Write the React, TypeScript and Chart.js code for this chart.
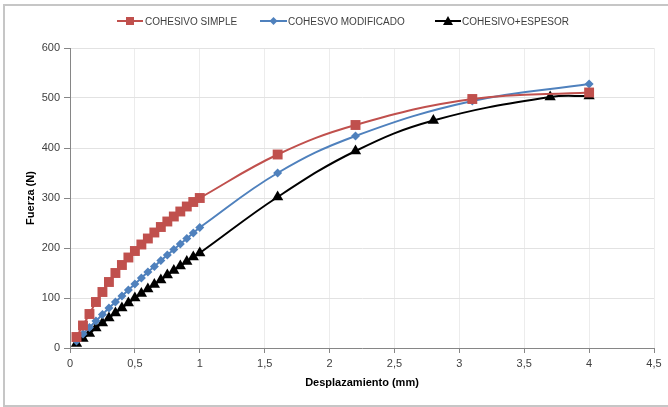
import React, { useEffect, useRef } from "react";
import { Chart, registerables } from "chart.js";

Chart.register(...registerables);

const simpleX = [0.05, 0.1, 0.15, 0.2, 0.25, 0.3, 0.35, 0.4, 0.45, 0.5, 0.55, 0.6, 0.65, 0.7, 0.75, 0.8, 0.85, 0.9, 0.95, 1.0, 1.6, 2.2, 3.1, 4.0];
const simpleY = [22, 45, 68, 92, 112, 132, 150, 166, 181, 194, 207, 219, 231, 242, 253, 263, 273, 283, 292, 300, 387, 446, 498, 511];

const modX = [0.05, 0.1, 0.15, 0.2, 0.25, 0.3, 0.35, 0.4, 0.45, 0.5, 0.55, 0.6, 0.65, 0.7, 0.75, 0.8, 0.85, 0.9, 0.95, 1.0, 1.6, 2.2, 3.1, 4.0];
const modY = [14, 28, 41, 54, 67, 80, 92, 104, 116, 128, 140, 152, 163, 175, 186, 197, 208, 219, 230, 241, 350, 424, 494, 528];

const espX = [0.05, 0.1, 0.15, 0.2, 0.25, 0.3, 0.35, 0.4, 0.45, 0.5, 0.55, 0.6, 0.65, 0.7, 0.75, 0.8, 0.85, 0.9, 0.95, 1.0, 1.6, 2.2, 2.8, 3.7, 4.0];
const espY = [9, 19, 29, 40, 50, 60, 70, 80, 90, 100, 109, 118, 127, 136, 146, 155, 164, 173, 182, 190, 302, 394, 455, 502, 504];

const seriesNames = ["COHESIVO SIMPLE", "COHESVO MODIFICADO", "COHESIVO+ESPESOR"];
const xTitle = "Desplazamiento (mm)";
const yTitle = "Fuerza (N)";

const RED = "#C0504D";
const BLUE = "#4F81BD";
const BLACK = "#000000";
const FONT = "'Liberation Sans', Arial, sans-serif";

function pts(xs: number[], ys: number[]) {
  return xs.map((x, i) => ({ x, y: ys[i] }));
}

const legendPlugin = {
  id: "excelLegend",
  afterDraw(chart: any) {
    const ctx = chart.ctx;
    const items = [
      { name: seriesNames[0], color: RED, style: "rect", x1: 117, x2: 143, tx: 145 },
      { name: seriesNames[1], color: BLUE, style: "rectRot", x1: 260, x2: 287, tx: 288 },
      { name: seriesNames[2], color: BLACK, style: "triangle", x1: 435, x2: 461, tx: 462 },
    ];
    const y = 21;
    ctx.save();
    items.forEach((it) => {
      ctx.strokeStyle = it.color;
      ctx.lineWidth = 2;
      ctx.beginPath();
      ctx.moveTo(it.x1, y);
      ctx.lineTo(it.x2, y);
      ctx.stroke();
      ctx.fillStyle = it.color;
      const cx = (it.x1 + it.x2) / 2;
      ctx.beginPath();
      if (it.style === "rect") {
        ctx.rect(cx - 4, y - 4, 8, 8);
      } else if (it.style === "rectRot") {
        ctx.moveTo(cx, y - 4);
        ctx.lineTo(cx + 4, y);
        ctx.lineTo(cx, y + 4);
        ctx.lineTo(cx - 4, y);
        ctx.closePath();
      } else {
        ctx.moveTo(cx, y - 5);
        ctx.lineTo(cx + 5, y + 4);
        ctx.lineTo(cx - 5, y + 4);
        ctx.closePath();
      }
      ctx.fill();
      ctx.fillStyle = "#404040";
      ctx.font = `10px ${FONT}`;
      ctx.textBaseline = "middle";
      ctx.textAlign = "left";
      ctx.fillText(it.name, it.tx, y + 1);
    });
    ctx.restore();
  },
};

export default function App() {
  const ref = useRef<HTMLCanvasElement | null>(null);
  useEffect(() => {
    if (!ref.current) return;
    const common = { showLine: true, borderWidth: 2, tension: 0.4, pointBorderWidth: 0 };
    const chart = new Chart(ref.current, {
      type: "scatter",
      data: {
        datasets: [
          {
            ...common,
            label: seriesNames[0],
            data: pts(simpleX, simpleY),
            borderColor: RED,
            backgroundColor: RED,
            pointStyle: "rect",
            pointRadius: 7,
          },
          {
            ...common,
            label: seriesNames[1],
            data: pts(modX, modY),
            borderColor: BLUE,
            backgroundColor: BLUE,
            pointStyle: "rectRot",
            pointRadius: 4.5,
          },
          {
            ...common,
            label: seriesNames[2],
            data: pts(espX, espY),
            borderColor: BLACK,
            backgroundColor: BLACK,
            pointStyle: "triangle",
            pointRadius: 6.5,
          },
        ],
      },
      plugins: [legendPlugin],
      options: {
        responsive: false,
        animation: false,
        layout: { padding: { top: 48, right: 14, bottom: 0, left: 0 } },
        plugins: { legend: { display: false }, tooltip: { enabled: false } },
        scales: {
          x: {
            type: "linear",
            min: 0,
            max: 4.5,
            afterFit: (s: any) => {
              s.height = 59;
            },
            ticks: {
              stepSize: 0.5,
              padding: 4,
              color: "#404040",
              font: { family: FONT, size: 11 },
              callback: (v: any) => String(v).replace(".", ","),
            },
            grid: { color: "#ececec", tickColor: "#868686", tickLength: 5, drawTicks: true },
            border: { color: "#868686" },
            title: {
              display: true,
              text: xTitle,
              color: "#000",
              font: { family: FONT, size: 11, weight: "bold" },
              padding: { top: 0, bottom: 17 },
            },
          },
          y: {
            type: "linear",
            min: 0,
            max: 600,
            afterFit: (s: any) => {
              s.width = 70;
            },
            ticks: {
              stepSize: 100,
              padding: 4,
              color: "#404040",
              font: { family: FONT, size: 11 },
            },
            grid: { color: "#e2e2e2", tickColor: "#868686", tickLength: 6, drawTicks: true },
            border: { color: "#868686" },
            title: {
              display: true,
              text: yTitle,
              color: "#000",
              font: { family: FONT, size: 11, weight: "bold" },
              padding: { top: 24, bottom: 0 },
            },
          },
        },
      },
    });
    return () => chart.destroy();
  }, []);
  return (
    <div style={{ position: "fixed", left: 0, top: 0, width: 668, height: 407, background: "#fff" }}>
      <div
        style={{
          position: "absolute",
          left: 3,
          top: 4,
          width: 680,
          height: 399,
          border: "2px solid #c6c6c6",
          boxSizing: "content-box",
        }}
      />
      <canvas ref={ref} width={668} height={407} style={{ position: "absolute", left: 0, top: 0 }} />
    </div>
  );
}
